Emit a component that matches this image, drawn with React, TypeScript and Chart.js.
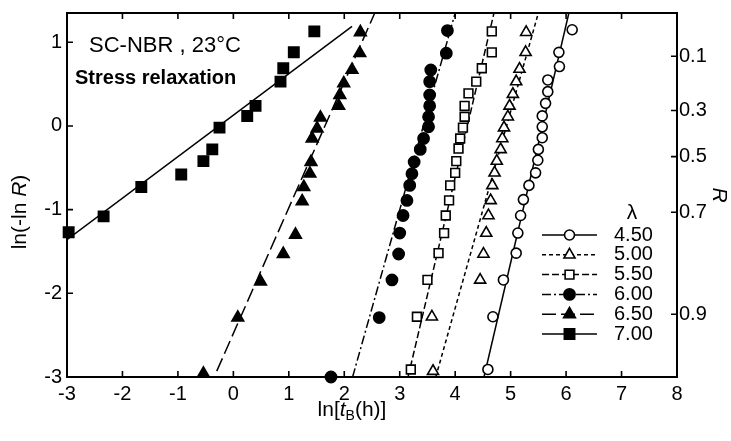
import React, { useEffect, useRef } from 'react';
import { Chart, registerables } from 'chart.js';

Chart.register(...registerables);

// ---- axis ticks / labels ----
const xTickValues = [-3, -2, -1, 0, 1, 2, 3, 4, 5, 6, 7, 8];
const yTickValues = [-3, -2, -1, 0, 1];
const rTickValues = [0.1, 0.3, 0.5, 0.7, 0.9];
const lambdaLabels = ['4.50', '5.00', '5.50', '6.00', '6.50', '7.00'];

// ---- λ = 4.50 (open circles) ----
const x450 = [4.59, 4.68, 4.87, 5.10, 5.13, 5.18, 5.23, 5.33, 5.45, 5.49, 5.50, 5.57, 5.57, 5.57, 5.63, 5.67, 5.67, 5.88, 5.87, 6.11];
const y450 = [-2.91, -2.28, -1.84, -1.52, -1.28, -1.07, -0.88, -0.71, -0.56, -0.41, -0.28, -0.14, -0.01, 0.12, 0.27, 0.41, 0.55, 0.71, 0.88, 1.15];
const fit450X = [4.52, 6.05];
const fit450Y = [-3.0, 1.35];

// ---- λ = 5.00 (open triangles) ----
const x500 = [3.60, 3.58, 4.45, 4.51, 4.56, 4.60, 4.64, 4.67, 4.71, 4.75, 4.82, 4.85, 4.88, 4.95, 4.98, 5.04, 5.10, 5.16, 5.27, 5.28];
const y500 = [-2.93, -2.28, -1.84, -1.53, -1.28, -1.07, -0.89, -0.71, -0.56, -0.42, -0.28, -0.15, -0.02, 0.11, 0.24, 0.38, 0.53, 0.68, 0.88, 1.12];
const fit500X = [3.65, 5.5];
const fit500Y = [-3.0, 1.35];

// ---- λ = 5.50 (open squares) ----
const x550 = [3.20, 3.31, 3.50, 3.70, 3.80, 3.83, 3.89, 3.91, 4.00, 4.02, 4.06, 4.09, 4.14, 4.17, 4.17, 4.24, 4.38, 4.48, 4.66, 4.66];
const y550 = [-2.91, -2.28, -1.84, -1.52, -1.28, -1.07, -0.89, -0.71, -0.56, -0.42, -0.27, -0.15, -0.02, 0.11, 0.24, 0.39, 0.53, 0.69, 0.88, 1.13];
const fit550X = [3.15, 4.7];
const fit550Y = [-3.0, 1.35];

// ---- λ = 6.00 (filled circles) ----
const x600 = [1.76, 2.63, 2.86, 2.98, 3.00, 3.06, 3.13, 3.18, 3.22, 3.26, 3.37, 3.43, 3.52, 3.52, 3.54, 3.54, 3.54, 3.56, 3.84, 3.86];
const y600 = [-3.0, -2.29, -1.84, -1.53, -1.28, -1.07, -0.89, -0.71, -0.57, -0.43, -0.28, -0.15, -0.01, 0.11, 0.24, 0.37, 0.53, 0.67, 0.87, 1.14];
const fit600X = [2.15, 4.0];
const fit600Y = [-3.0, 1.35];

// ---- λ = 6.50 (filled triangles) ----
const x650 = [-0.54, 0.08, 0.49, 0.90, 1.12, 1.24, 1.27, 1.38, 1.40, 1.42, 1.51, 1.57, 1.90, 1.92, 1.99, 2.14, 2.28, 2.29];
const y650 = [-2.96, -2.29, -1.86, -1.53, -1.30, -0.90, -0.73, -0.57, -0.43, -0.15, -0.03, 0.10, 0.24, 0.37, 0.51, 0.67, 0.87, 1.12];
const fit650X = [-0.30, 2.55];
const fit650Y = [-2.93, 1.35];

// ---- λ = 7.00 (filled squares) ----
const x700 = [-2.97, -2.34, -1.66, -0.94, -0.54, -0.38, -0.25, 0.25, 0.40, 0.85, 0.90, 1.09, 1.46];
const y700 = [-1.27, -1.08, -0.73, -0.58, -0.42, -0.28, -0.02, 0.12, 0.24, 0.53, 0.69, 0.88, 1.13];
const fit700X = [-3.0, 2.14];
const fit700Y = [-1.36, 1.19];

const SANS = "'Liberation Sans', Arial, Helvetica, sans-serif";

type PStyle = 'circle' | 'triangle' | 'rect';
const markerStyle: PStyle[] = ['circle', 'triangle', 'rect', 'circle', 'triangle', 'rect'];
const markerFilled = [false, false, false, true, true, true];
const markerRadius = [5.0, 6.4, 6.2, 5.6, 6.8, 7.3];
const lineDash: number[][] = [[], [4, 3], [7, 3], [9, 3, 2, 3], [14, 5], []];

const seriesX = [x450, x500, x550, x600, x650, x700];
const seriesY = [y450, y500, y550, y600, y650, y700];
const fitX = [fit450X, fit500X, fit550X, fit600X, fit650X, fit700X];
const fitY = [fit450Y, fit500Y, fit550Y, fit600Y, fit650Y, fit700Y];

function drawMarker(ctx: CanvasRenderingContext2D, style: PStyle, filled: boolean, x: number, y: number, r: number) {
  ctx.save();
  ctx.setLineDash([]);
  ctx.beginPath();
  if (style === 'circle') {
    ctx.arc(x, y, r, 0, Math.PI * 2);
  } else if (style === 'triangle') {
    let a = 0;
    ctx.moveTo(x + Math.sin(a) * r, y - Math.cos(a) * r);
    a += (2 * Math.PI) / 3;
    ctx.lineTo(x + Math.sin(a) * r, y - Math.cos(a) * r);
    a += (2 * Math.PI) / 3;
    ctx.lineTo(x + Math.sin(a) * r, y - Math.cos(a) * r);
    ctx.closePath();
  } else {
    const s = r * Math.SQRT1_2;
    ctx.rect(x - s, y - s, 2 * s, 2 * s);
  }
  ctx.fillStyle = filled ? '#000' : '#fff';
  ctx.fill();
  ctx.lineWidth = 1.6;
  ctx.strokeStyle = '#000';
  ctx.stroke();
  ctx.restore();
}

type Seg = { t: string; font: string; dy?: number };
function drawRich(ctx: CanvasRenderingContext2D, segs: Seg[], cx: number, cy: number) {
  let total = 0;
  for (const s of segs) {
    ctx.font = s.font;
    total += ctx.measureText(s.t).width;
  }
  let x = cx - total / 2;
  ctx.textBaseline = 'middle';
  ctx.textAlign = 'left';
  for (const s of segs) {
    ctx.font = s.font;
    ctx.fillText(s.t, x, cy + (s.dy || 0));
    x += ctx.measureText(s.t).width;
  }
}

const framePlugin = {
  id: 'frameTicks',
  beforeDatasetsDraw(chart: any) {
    const { ctx, chartArea, scales } = chart;
    const { left, right, top, bottom } = chartArea;
    ctx.save();
    ctx.strokeStyle = '#000';
    ctx.lineWidth = 2;
    ctx.strokeRect(left, top, right - left, bottom - top);
    ctx.lineWidth = 1.6;
    const tl = 6;
    ctx.beginPath();
    for (const v of xTickValues) {
      const px = scales.x.getPixelForValue(v);
      ctx.moveTo(px, bottom);
      ctx.lineTo(px, bottom - tl);
      ctx.moveTo(px, top);
      ctx.lineTo(px, top + tl);
    }
    for (const v of yTickValues) {
      const py = scales.y.getPixelForValue(v);
      ctx.moveTo(left, py);
      ctx.lineTo(left + tl, py);
    }
    for (const r of rTickValues) {
      const py = scales.yR.getPixelForValue(Math.log(-Math.log(r)));
      ctx.moveTo(right, py);
      ctx.lineTo(right - tl, py);
    }
    ctx.stroke();
    ctx.restore();
  },
  afterDraw(chart: any) {
    const { ctx, chartArea } = chart;
    const { left } = chartArea;
    ctx.save();
    ctx.fillStyle = '#000';
    // annotations
    ctx.textAlign = 'left';
    ctx.textBaseline = 'middle';
    ctx.font = `22px ${SANS}`;
    ctx.fillText('SC-NBR , 23°C', left + 22, 46);
    ctx.font = `bold 20px ${SANS}`;
    ctx.fillText('Stress relaxation', left + 8, 78);

    // x title
    drawRich(ctx, [
      { t: 'ln[', font: `21px ${SANS}` },
      { t: 't', font: `italic 21px ${SANS}` },
      { t: 'B', font: `14px ${SANS}`, dy: 6 },
      { t: '(h)]', font: `21px ${SANS}` },
    ], 352, 410);

    // y title
    ctx.save();
    ctx.translate(20, 212);
    ctx.rotate(-Math.PI / 2);
    drawRich(ctx, [
      { t: 'ln(-ln ', font: `21px ${SANS}` },
      { t: 'R', font: `italic 21px ${SANS}` },
      { t: ')', font: `21px ${SANS}` },
    ], 0, 0);
    ctx.restore();

    // legend
    ctx.font = `21px ${SANS}`;
    ctx.textAlign = 'center';
    ctx.fillText('λ', 632, 213);
    const rowY0 = 235;
    const rowStep = 19.8;
    for (let i = 0; i < lambdaLabels.length; i++) {
      const y = rowY0 + i * rowStep;
      ctx.save();
      ctx.strokeStyle = '#000';
      ctx.lineWidth = 1.5;
      ctx.setLineDash(lineDash[i]);
      ctx.beginPath();
      ctx.moveTo(542, y);
      ctx.lineTo(597, y);
      ctx.stroke();
      ctx.restore();
      drawMarker(ctx, markerStyle[i], markerFilled[i], 569.5, y, markerRadius[i]);
      ctx.fillStyle = '#000';
      ctx.font = `20px ${SANS}`;
      ctx.textAlign = 'left';
      ctx.textBaseline = 'middle';
      ctx.fillText(lambdaLabels[i], 614, y);
    }
    ctx.restore();
  },
};

const noPad = (s: any) => {
  s.paddingTop = 0;
  s.paddingBottom = 0;
  s.paddingLeft = 0;
  s.paddingRight = 0;
};

export default function App() {
  const ref = useRef<HTMLCanvasElement | null>(null);

  useEffect(() => {
    if (!ref.current) return;
    const datasets: any[] = [];
    for (let i = 0; i < seriesX.length; i++) {
      datasets.push({
        label: 'fit ' + lambdaLabels[i],
        data: fitX[i].map((x, j) => ({ x, y: fitY[i][j] })),
        showLine: true,
        borderColor: '#000',
        borderWidth: 1.5,
        borderDash: lineDash[i],
        pointRadius: 0,
        fill: false,
        order: 2,
      });
      datasets.push({
        label: lambdaLabels[i],
        data: seriesX[i].map((x, j) => ({ x, y: seriesY[i][j] })),
        showLine: false,
        pointStyle: markerStyle[i],
        pointRadius: markerRadius[i],
        pointBackgroundColor: markerFilled[i] ? '#000' : '#fff',
        pointBorderColor: '#000',
        pointBorderWidth: 1.6,
        clip: false,
        order: 1,
      });
    }

    const tickFont = { family: SANS, size: 20 };

    const chart = new Chart(ref.current, {
      type: 'scatter',
      data: { datasets },
      plugins: [framePlugin],
      options: {
        animation: false,
        responsive: false,
        events: [],
        layout: { padding: { top: 13, left: 0, right: 0, bottom: 0 } },
        plugins: { legend: { display: false }, tooltip: { enabled: false } },
        scales: {
          x: {
            type: 'linear',
            min: -3,
            max: 8,
            afterBuildTicks: (s: any) => { s.ticks = xTickValues.map((v) => ({ value: v })); },
            afterFit: (s: any) => { s.height = 64; noPad(s); },
            grid: { display: false, drawTicks: false },
            border: { display: false },
            ticks: { color: '#000', font: tickFont, padding: 5, maxRotation: 0, autoSkip: false },
          },
          y: {
            type: 'linear',
            position: 'left',
            min: -3,
            max: 1.35,
            afterBuildTicks: (s: any) => { s.ticks = yTickValues.map((v) => ({ value: v })); },
            afterFit: (s: any) => { s.width = 67; noPad(s); },
            grid: { display: false, drawTicks: false },
            border: { display: false },
            ticks: { color: '#000', font: tickFont, padding: 5, autoSkip: false },
          },
          yR: {
            type: 'linear',
            position: 'right',
            min: -3,
            max: 1.35,
            afterBuildTicks: (s: any) => {
              s.ticks = rTickValues.map((r) => ({ value: Math.log(-Math.log(r)) }));
            },
            afterFit: (s: any) => { s.width = 54; noPad(s); },
            grid: { display: false, drawTicks: false },
            border: { display: false },
            ticks: {
              color: '#000',
              font: tickFont,
              padding: 2,
              autoSkip: false,
              callback: (_v: any, i: number) => String(rTickValues[i]),
            },
            title: {
              display: true,
              text: 'R',
              color: '#000',
              font: { family: SANS, size: 21, style: 'italic' },
              padding: { top: 0, bottom: 2 },
            },
          },
        },
      },
    });
    return () => chart.destroy();
  }, []);

  return (
    <div style={{ position: 'absolute', left: 0, top: 0, width: 731, height: 441, background: '#fff' }}>
      <canvas ref={ref} width={731} height={441} style={{ display: 'block' }} />
    </div>
  );
}
